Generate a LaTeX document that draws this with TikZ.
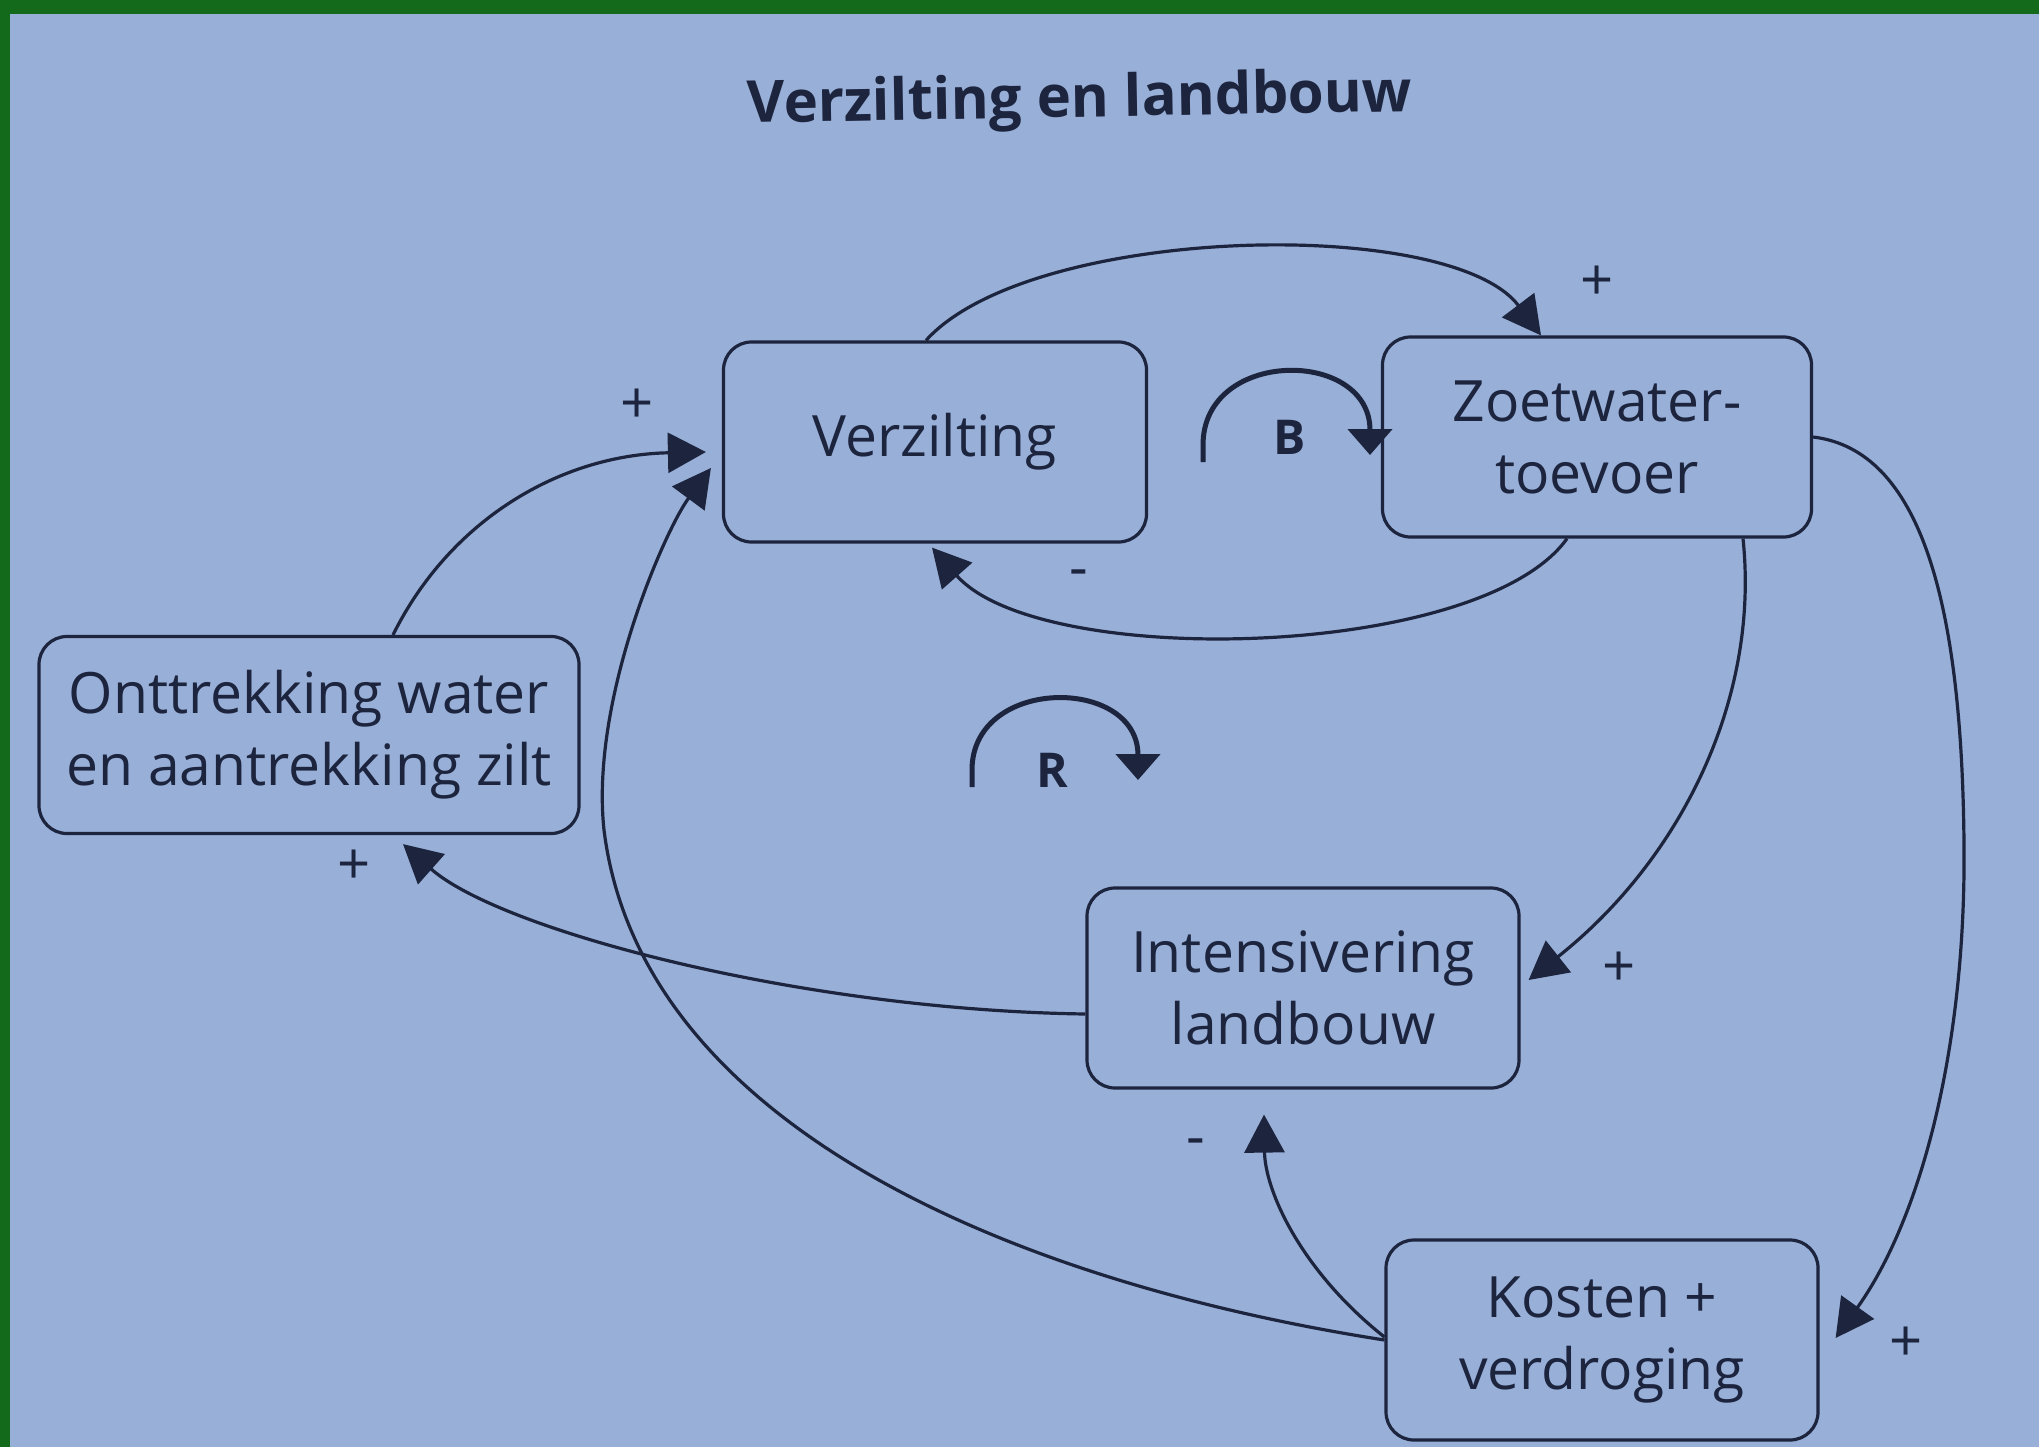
\documentclass[tikz,border=0pt]{standalone}
\usepackage{fontspec}
\setmainfont{Open Sans}
\usetikzlibrary{arrows.meta}
\definecolor{page}{RGB}{152,175,215}
\definecolor{ink}{RGB}{28,36,62}
\definecolor{edge}{RGB}{19,106,27}
\begin{document}
\begin{tikzpicture}[x=1pt,y=-1pt,
  box/.style={draw=ink, line width=3.2pt, rounded corners=28pt, align=center,
    inner sep=0pt, text=ink, font=\fontsize{57}{72}\selectfont, minimum height=200pt},
  link/.style={draw=ink, line width=3.2pt, -{Triangle[length=38pt,width=40pt]}},
  loopsym/.style={draw=ink, line width=5pt, -{Triangle[length=26pt,width=44pt]}},
  sign/.style={text=ink, font=\fontsize{58}{60}\selectfont, inner sep=0pt},
  looplabel/.style={text=ink, font=\bfseries\fontsize{48}{50}\selectfont, inner sep=0pt}]

% page and frame
\useasboundingbox (0,0) rectangle (2039,1447);
\fill[page] (0,0) rectangle (2039,1447);
\fill[edge] (0,0) rectangle (2039,14);
\fill[edge] (0,0) rectangle (10,1447);

% title
\node[text=ink, font=\bfseries\fontsize{58}{70}\selectfont, anchor=base, rotate=1]
  (title) at (1080,117) {Verzilting en landbouw};

% variables
\node[box, minimum width=423pt] (verz) at (935,442) {Verzilting};
\node[box, minimum width=429pt] (zoet) at (1597,437) {Zoetwater-\\toevoer};
\node[box, minimum width=540pt, minimum height=197pt] (ontt) at (309,735) {Onttrekking water\\en aantrekking zilt};
\node[box, minimum width=432pt] (inte) at (1303,988) {Intensivering\\landbouw};
\node[box, minimum width=432pt] (kost) at (1602,1340) {Kosten +\\verdroging};

% causal links
\draw[link] ([shift={(-9,0)}]verz.north) .. controls (1030,225) and (1450,215) .. ([shift={(-56,0)}]zoet.north);
\draw[link] ([shift={(-30,0)}]zoet.south) .. controls (1480,660) and (1040,670) .. ([shift={(-3,4)}]verz.south);
\draw[link] ([shift={(84,0)}]ontt.north) .. controls (450,520) and (560,455) .. ([shift={(-16,10)}]verz.west);
\draw[link] (kost.west) .. controls (1000,1280) and (640,1120) .. (604,830)
  .. controls (590,700) and (665,530) .. ([shift={(-11,26)}]verz.west);
\draw[link] ([shift={(0,26)}]inte.west) .. controls (800,1010) and (500,930) .. ([shift={(94,9)}]ontt.south);
\draw[link] ([shift={(146,0)}]zoet.south) .. controls (1760,700) and (1680,860) .. ([shift={(8,-8)}]inte.east);
\draw[link] (zoet.east) .. controls (1920,450) and (1962,600) .. (1964,845)
  .. controls (1966,1050) and (1920,1220) .. ([shift={(16,-2)}]kost.east);
\draw[link] ([shift={(0,-3)}]kost.west) .. controls (1300,1270) and (1265,1190) .. ([shift={(-39,25)}]inte.south);

% polarity signs
\node[sign] (s1) at (1597,283) {+};
\node[sign] (s2) at (1079,579) {-};
\node[sign] (s3) at (637,406) {+};
\node[sign] (s4) at (354,867) {+};
\node[sign] (s5) at (1619,969) {+};
\node[sign] (s6) at (1906,1344) {+};
\node[sign] (s7) at (1196,1148) {-};

% loop markers
\node[looplabel] (lb) at (1290,437) {B};
\draw[loopsym] (1203,462) -- (1203,445) .. controls (1203,348) and (1370,348) .. (1370,455);
\node[looplabel] (lr) at (1052,770) {R};
\draw[loopsym] (972,787) -- (972,770) .. controls (972,676) and (1138,676) .. (1138,780);
\end{tikzpicture}
\end{document}
